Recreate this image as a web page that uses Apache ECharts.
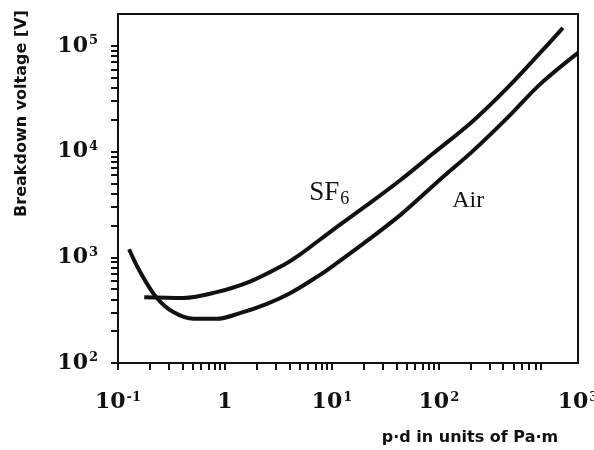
<!DOCTYPE html>
<html>
<head>
<meta charset="utf-8">
<script src="https://cdn.jsdelivr.net/npm/echarts@6/dist/echarts.min.js"></script>
<style>
  html, body { margin: 0; padding: 0; background: #fff; }
  #chart { width: 594px; height: 450px; }
</style>
</head>
<body>
<div id="chart"></div>
<script>
// p·d [Pa·m] vs breakdown voltage [V]
const airPd = [0.127, 0.158, 0.228, 0.329, 0.508, 0.836, 1.38, 2.47, 4.06, 7.3, 10.1, 21.1, 43.2, 102.8, 210, 439, 897, 2000];
const airV = [1190, 753, 419, 303, 262, 262, 296, 363, 457, 656, 822, 1422, 2490, 5450, 10200, 20900, 43900, 85900];

const sf6Pd = [0.176, 0.409, 0.836, 1.71, 3.57, 4.94, 10.1, 21.1, 43.2, 88.3, 210, 439, 897, 1445];
const sf6V = [419, 412, 468, 589, 851, 1047, 1800, 3090, 5320, 9570, 19600, 40200, 87000, 148000];

const xLabelValues = [0.1, 1, 10, 100, 2000];
const xLabelTexts = ['10{s|-1}', '1', '10{s|1}', '10{s|2}', '10{s|3}'];
const yLabelValues = [100, 1000, 10000, 100000];
const yLabelTexts = ['10{s|2}', '10{s|3}', '10{s|4}', '10{s|5}'];

const xDecades = [0.1, 1, 10, 100];
const yDecades = [100, 1000, 10000, 100000];

// minor ticks 1..9 in each decade
const logTicks = (decades, max) => {
  const out = [];
  decades.forEach(d => {
    for (let k = 1; k <= 9; k++) {
      const v = +(d * k).toPrecision(3);
      if (v <= max) out.push(v);
    }
  });
  return out;
};

const ink = '#111';
const serif = '"Liberation Serif", "DejaVu Serif", serif';
const wideSerif = '"DejaVu Serif", serif';
const sans = '"DejaVu Sans", "Liberation Sans", sans-serif';

const labelRich = {
  s: { fontSize: 13, fontFamily: wideSerif, fontWeight: 'bold', color: ink, verticalAlign: 'top', padding: [0, 0, 10, 1] }
};

const chart = echarts.init(document.getElementById('chart'));

chart.setOption({
  backgroundColor: '#fff',
  animation: false,
  grid: {
    left: 118, right: 16, top: 14, bottom: 87,
    containLabel: false, outerBoundsMode: 'none',
    show: true, borderColor: ink, borderWidth: 2
  },
  xAxis: {
    type: 'log',
    min: 0.1,
    max: 2000,
    name: 'p·d in units of Pa·m',
    nameLocation: 'middle',
    nameGap: 67,
    nameTextStyle: { fontFamily: sans, fontWeight: 'bold', fontSize: 16, color: ink, padding: [0, 0, 0, 244] },
    axisLine: { lineStyle: { color: ink, width: 2 } },
    axisTick: { customValues: logTicks(xDecades, 1000), length: 7, lineStyle: { color: ink, width: 2 } },
    axisLabel: {
      customValues: xLabelValues,
      formatter: v => xLabelTexts[xLabelValues.indexOf(v)] || '',
      margin: 28,
      fontFamily: wideSerif,
      fontWeight: 'bold',
      fontSize: 22,
      color: ink,
      rich: labelRich
    },
    splitLine: { show: false }
  },
  yAxis: {
    type: 'log',
    min: 100,
    max: 200000,
    name: 'Breakdown voltage [V]',
    nameLocation: 'middle',
    nameGap: 88,
    nameRotate: 90,
    nameTextStyle: { fontFamily: sans, fontWeight: 'bold', fontSize: 16, color: ink, padding: [0, 0, 0, 150] },
    axisLine: { lineStyle: { color: ink, width: 2 } },
    axisTick: { customValues: logTicks(yDecades, 100000), length: 7, lineStyle: { color: ink, width: 2 } },
    axisLabel: {
      customValues: yLabelValues,
      formatter: v => yLabelTexts[yLabelValues.indexOf(v)] || '',
      margin: 20,
      fontFamily: wideSerif,
      fontWeight: 'bold',
      fontSize: 22,
      color: ink,
      rich: labelRich
    },
    splitLine: { show: false }
  },
  series: [
    {
      name: 'Air',
      type: 'line',
      smooth: 0.35,
      symbol: 'none',
      lineStyle: { color: ink, width: 4 },
      data: airPd.map((x, i) => [x, airV[i]]),
      markPoint: {
        symbol: 'circle',
        symbolSize: 0,
        data: [{ coord: [188, 3450], value: 'Air' }],
        label: { formatter: 'Air', fontFamily: serif, fontSize: 24, color: ink }
      }
    },
    {
      name: 'SF6',
      type: 'line',
      smooth: 0.35,
      symbol: 'none',
      lineStyle: { color: ink, width: 4 },
      data: sf6Pd.map((x, i) => [x, sf6V[i]]),
      markPoint: {
        symbol: 'circle',
        symbolSize: 0,
        data: [{ coord: [9.46, 4100], value: 'SF6' }],
        label: {
          formatter: '{a|SF}{b|6}',
          rich: {
            a: { fontFamily: serif, fontSize: 27, color: ink },
            b: { fontFamily: serif, fontSize: 18, color: ink, verticalAlign: 'bottom', padding: [14, 0, 0, 1] }
          }
        }
      }
    }
  ]
});
</script>
</body>
</html>
